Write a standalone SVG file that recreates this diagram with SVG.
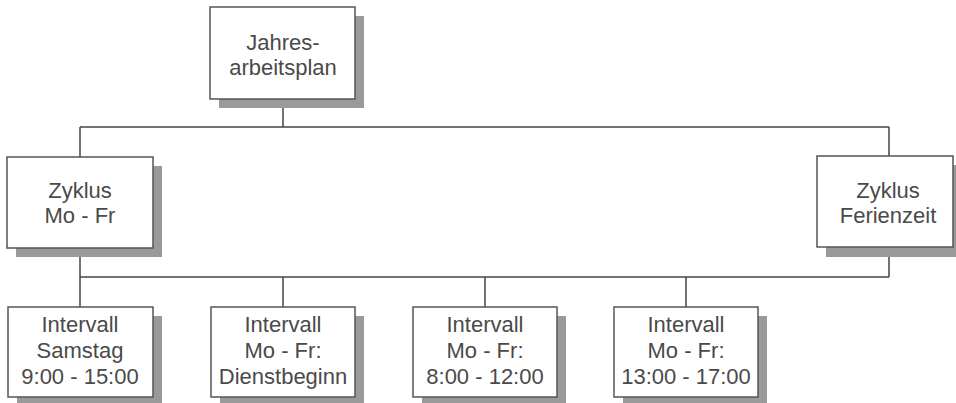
<svg xmlns="http://www.w3.org/2000/svg" width="956" height="403" viewBox="0 0 956 403">
<style>
.bg{fill:#fff}
.sh{fill:#9a9a9a}
.box{fill:#fff;stroke:#555;stroke-width:1.5}
.ln{fill:none;stroke:#444;stroke-width:1.5}
text{font-family:"Liberation Sans",Arial,sans-serif;font-size:22px;fill:#4a4a4a;text-anchor:middle}
</style>
<rect class="bg" x="0" y="0" width="956" height="403"/>
<g id="connectors">
<path class="ln" d="M283 99V127M80 127H889M80 127V157M889 127V156"/>
<path class="ln" d="M80 248V277M889 247V277M80 277H889M80 277V307M283 277V307M485 277V307M686 277V307"/>
</g>
<g id="jahresarbeitsplan">
<rect class="sh" x="219" y="16" width="145" height="92"/>
<rect class="box" x="210" y="7" width="145" height="92"/>
<text x="283" y="50">Jahres-</text>
<text x="283" y="75">arbeitsplan</text>
</g>
<g id="zyklus-mo-fr">
<rect class="sh" x="16" y="166" width="146" height="91"/>
<rect class="box" x="7" y="157" width="146" height="91"/>
<text x="80" y="198">Zyklus</text>
<text x="80" y="223">Mo - Fr</text>
</g>
<g id="zyklus-ferienzeit">
<rect class="sh" x="826" y="165" width="136" height="92"/>
<rect class="box" x="817" y="156" width="136" height="91"/>
<text x="888" y="198">Zyklus</text>
<text x="888" y="223">Ferienzeit</text>
</g>
<g id="intervall-samstag">
<rect class="sh" x="17" y="316" width="145" height="90"/>
<rect class="box" x="8" y="307" width="145" height="90"/>
<text x="80" y="332">Intervall</text>
<text x="80" y="358">Samstag</text>
<text x="80" y="384">9:00 - 15:00</text>
</g>
<g id="intervall-dienstbeginn">
<rect class="sh" x="220" y="316" width="144" height="90"/>
<rect class="box" x="211" y="307" width="144" height="90"/>
<text x="283" y="332">Intervall</text>
<text x="283" y="358">Mo - Fr:</text>
<text x="283" y="384">Dienstbeginn</text>
</g>
<g id="intervall-8-12">
<rect class="sh" x="422" y="316" width="144" height="90"/>
<rect class="box" x="413" y="307" width="144" height="90"/>
<text x="485" y="332">Intervall</text>
<text x="485" y="358">Mo - Fr:</text>
<text x="485" y="384">8:00 - 12:00</text>
</g>
<g id="intervall-13-17">
<rect class="sh" x="623" y="316" width="144" height="90"/>
<rect class="box" x="614" y="307" width="144" height="90"/>
<text x="686" y="332">Intervall</text>
<text x="686" y="358">Mo - Fr:</text>
<text x="686" y="384">13:00 - 17:00</text>
</g>
</svg>
